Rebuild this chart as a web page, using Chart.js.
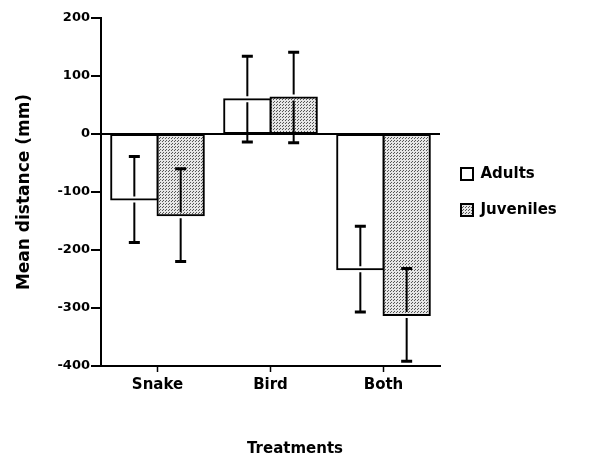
<!DOCTYPE html>
<html>
<head>
<meta charset="utf-8">
<script src="https://cdn.jsdelivr.net/npm/chart.js@4.4.1/dist/chart.umd.min.js"></script>
<style>
  html, body { margin: 0; padding: 0; background: #fff; }
  #wrap { width: 590px; height: 462px; position: relative; }
</style>
</head>
<body>
<div id="wrap"><canvas id="c" width="590" height="462"></canvas></div>
<script>
const categories = ['Snake', 'Bird', 'Both'];
const adultsMean = [-113, 60, -233];
const adultsErr = [74, 74, 74];
const juvenilesMean = [-140, 63, -312];
const juvenilesErr = [80, 78, 80];
const yTicks = [-400, -300, -200, -100, 0, 100, 200];

function makePattern() {
  const p = document.createElement('canvas');
  p.width = 3; p.height = 3;
  const g = p.getContext('2d');
  g.fillStyle = '#e6e6e6';
  g.fillRect(0, 0, 3, 3);
  g.fillStyle = '#555';
  g.fillRect(0, 0, 1, 1);
  g.fillRect(1, 2, 1, 1);
  const ctx = document.getElementById('c').getContext('2d');
  return ctx.createPattern(p, 'repeat');
}
const pattern = makePattern();

const errorBars = {
  id: 'errorBars',
  afterDatasetsDraw(chart) {
    const ctx = chart.ctx;
    const y = chart.scales.y;
    chart.data.datasets.forEach((ds, di) => {
      const meta = chart.getDatasetMeta(di);
      meta.data.forEach((bar, i) => {
        const v = ds.data[i];
        const e = ds.errors[i];
        const x = bar.x;
        const yEnd = y.getPixelForValue(v);
        const yHi = y.getPixelForValue(v + e);
        const yLo = y.getPixelForValue(v - e);
        ctx.save();
        ctx.strokeStyle = '#000';
        ctx.lineWidth = 2;
        ctx.beginPath();
        ctx.moveTo(x, yHi); ctx.lineTo(x, yEnd - 3);
        ctx.moveTo(x, yEnd + 3); ctx.lineTo(x, yLo);
        ctx.stroke();
        ctx.lineWidth = 3;
        ctx.beginPath();
        ctx.moveTo(x - 5.5, yHi); ctx.lineTo(x + 5.5, yHi);
        ctx.moveTo(x - 5.5, yLo); ctx.lineTo(x + 5.5, yLo);
        ctx.stroke();
        ctx.restore();
      });
    });
  }
};

// fix the legend column width so the plot area ends where the reference's does
const legendWidth = {
  id: 'legendWidth',
  beforeLayout(chart) {
    const lg = chart.legend;
    if (lg && !lg._wrapped) {
      const orig = lg.fit;
      lg.fit = function () { orig.call(this); this.width = 150; };
      lg._wrapped = true;
    }
  }
};

new Chart(document.getElementById('c'), {
  type: 'bar',
  data: {
    labels: categories,
    datasets: [
      { label: 'Adults', data: adultsMean, errors: adultsErr, backgroundColor: '#fff', borderColor: '#000', borderWidth: 2, borderSkipped: false, inflateAmount: 1 },
      { label: 'Juveniles', data: juvenilesMean, errors: juvenilesErr, backgroundColor: pattern, borderColor: '#000', borderWidth: 2, borderSkipped: false, inflateAmount: 1 }
    ]
  },
  options: {
    responsive: false,
    animation: false,
    devicePixelRatio: 1,
    layout: { padding: { top: 18, right: 0, left: 0, bottom: 0 } },
    datasets: { bar: { categoryPercentage: 0.82, barPercentage: 1.0 } },
    plugins: {
      tooltip: { enabled: false },
      legend: {
        position: 'right',
        fullSize: false,
        labels: {
          color: '#000',
          boxWidth: 12, boxHeight: 12,
          padding: 21,
          font: { family: 'DejaVu Sans', weight: 'bold', size: 15 }
        }
      },
      title: {
        display: true,
        position: 'bottom',
        text: 'Treatments',
        color: '#000',
        font: { family: 'DejaVu Sans', weight: 'bold', size: 15 },
        padding: { top: 42, bottom: 4 }
      }
    },
    scales: {
      x: {
        offset: true,
        grid: { offset: false, drawOnChartArea: false, tickLength: 6, tickColor: '#000', tickWidth: 1.5, color: '#000' },
        border: { display: true, color: '#000', width: 2 },
        ticks: { color: '#000', padding: 4, font: { family: 'DejaVu Sans', weight: 'bold', size: 15 } }
      },
      y: {
        min: -400, max: 200,
        afterBuildTicks(scale) { scale.ticks = yTicks.map(v => ({ value: v })); },
        afterFit(scale) { scale.width = 101; },
        grid: {
          drawOnChartArea: true,
          tickLength: 10,
          tickColor: '#000',
          tickWidth: 2,
          lineWidth: 2,
          color: (c) => (c.tick && c.tick.value === 0) ? '#000' : 'rgba(0,0,0,0)'
        },
        border: { display: true, color: '#000', width: 2 },
        ticks: { color: '#000', padding: 1, font: { family: 'DejaVu Sans', weight: 'bold', size: 13 } },
        title: {
          display: true,
          text: 'Mean distance (mm)',
          color: '#000',
          font: { family: 'DejaVu Sans', weight: 'bold', size: 17 },
          padding: { top: 14, bottom: 0 }
        }
      }
    }
  },
  plugins: [errorBars, legendWidth]
});
</script>
</body>
</html>
